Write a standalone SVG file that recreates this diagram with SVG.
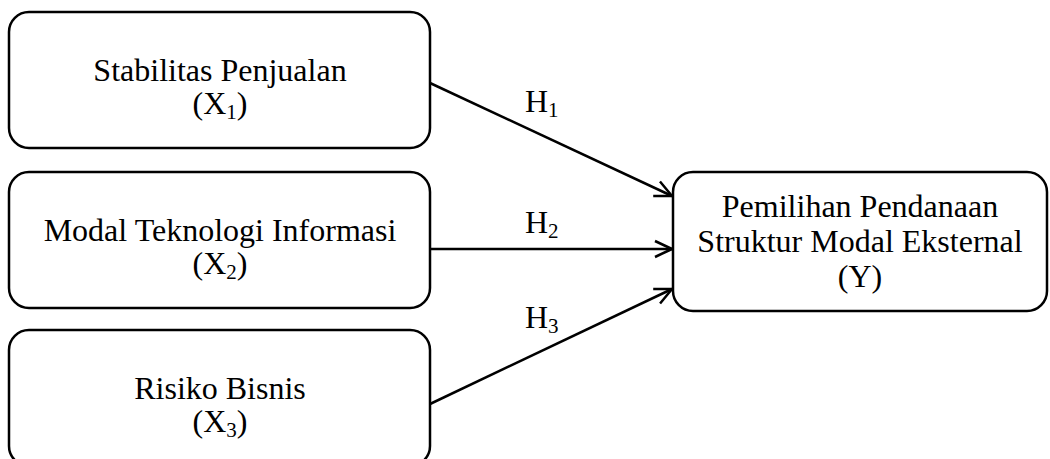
<svg xmlns="http://www.w3.org/2000/svg" width="1050" height="459" viewBox="0 0 1050 459">
<style>
.box{fill:#fff;stroke:#000;stroke-width:2.5}
.t{font-family:"Liberation Serif","Times New Roman",serif;font-size:32px;fill:#000;text-anchor:middle}
.h{font-family:"Liberation Serif","Times New Roman",serif;font-size:32px;fill:#000}
.sub{font-size:21px}
.c{stroke:#000;stroke-width:2.5;fill:none}
</style>
<defs>
<marker id="arr" viewBox="0 0 20 20" refX="19" refY="10" markerWidth="20" markerHeight="20" markerUnits="userSpaceOnUse" orient="auto">
<path d="M2,2 L19,10 L2,18" fill="none" stroke="#000" stroke-width="2.5"/>
</marker>
</defs>
<g id="connectors">
<line class="c" x1="430" y1="83" x2="672" y2="196" marker-end="url(#arr)"/>
<line class="c" x1="430" y1="249" x2="672" y2="249" marker-end="url(#arr)"/>
<line class="c" x1="430" y1="404" x2="672" y2="289" marker-end="url(#arr)"/>
<text class="h" x="525" y="112">H<tspan class="sub" dy="5">1</tspan></text>
<text class="h" x="525" y="233">H<tspan class="sub" dy="5">2</tspan></text>
<text class="h" x="525" y="328">H<tspan class="sub" dy="5">3</tspan></text>
</g>
<g id="x1">
<rect class="box" x="9" y="12" width="421" height="136" rx="20"/>
<text class="t" x="220" y="81">Stabilitas Penjualan</text>
<text class="t" x="220" y="114">(X<tspan class="sub" dy="5">1</tspan><tspan dy="-5">)</tspan></text>
</g>
<g id="x2">
<rect class="box" x="9" y="172" width="421" height="136" rx="20"/>
<text class="t" x="220" y="241">Modal Teknologi Informasi</text>
<text class="t" x="220" y="274">(X<tspan class="sub" dy="5">2</tspan><tspan dy="-5">)</tspan></text>
</g>
<g id="x3">
<rect class="box" x="9" y="330" width="421" height="136" rx="20"/>
<text class="t" x="220" y="399">Risiko Bisnis</text>
<text class="t" x="220" y="432">(X<tspan class="sub" dy="5">3</tspan><tspan dy="-5">)</tspan></text>
</g>
<g id="y">
<rect class="box" x="673" y="172" width="374" height="139" rx="20"/>
<text class="t" x="860" y="217">Pemilihan Pendanaan</text>
<text class="t" x="860" y="252">Struktur Modal Eksternal</text>
<text class="t" x="860" y="287">(Y)</text>
</g>
</svg>
